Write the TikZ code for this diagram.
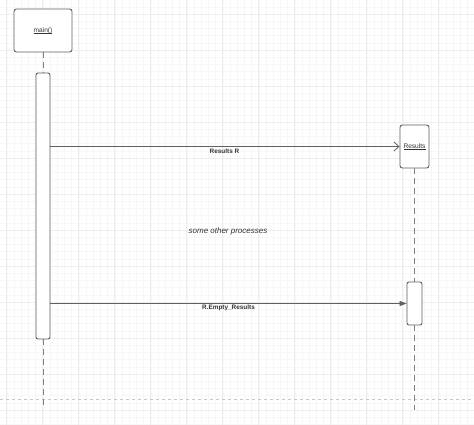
\documentclass[tikz,border=0pt]{standalone}
\usepackage{fontspec}
\setmainfont{Liberation Sans}
\usetikzlibrary{arrows.meta}
\definecolor{edge}{HTML}{606060}
\definecolor{txt}{HTML}{333333}
\definecolor{gmajor}{HTML}{EEEEEE}
\definecolor{gminor}{HTML}{F7F7F7}
\newcommand{\myul}[1]{\setbox0\hbox{#1}\rlap{\rule[-1pt]{\wd0}{0.45pt}}\box0}
\tikzset{
  objbox/.style={draw=edge, line width=0.9pt, rounded corners=2.5pt, fill=white, inner sep=0pt, text=txt, font=\fontsize{6.6}{7}\selectfont},
  actbox/.style={draw=edge, line width=0.9pt, rounded corners=2pt, fill=white, inner sep=0pt},
  life/.style={draw=edge!80, line width=0.8pt, dash pattern=on 6pt off 4pt},
  msg/.style={draw=edge, line width=0.8pt},
  msglabel/.style={text=txt, font=\bfseries\fontsize{6.4}{7}\selectfont, inner sep=0pt},
  note/.style={text=txt, font=\itshape\fontsize{8}{9}\selectfont, inner sep=0pt}
}
\begin{document}
\begin{tikzpicture}[x=1pt,y=-1pt]
\useasboundingbox (0,0) rectangle (474,425);
\fill[white] (0,0) rectangle (474,425);
% grid
\foreach \i in {0,...,66} {
  \pgfmathsetmacro\xx{-0.5+7.2*\i}
  \draw[gminor, line width=0.4pt] (\xx,0) -- (\xx,425);
}
\foreach \i in {0,...,59} {
  \pgfmathsetmacro\yy{-0.4+7.2*\i}
  \draw[gminor, line width=0.4pt] (0,\yy) -- (474,\yy);
}
\foreach \i in {0,...,13} {
  \pgfmathsetmacro\xx{6.7+36*\i}
  \draw[gmajor, line width=0.5pt] (\xx,0) -- (\xx,425);
}
\foreach \i in {0,...,11} {
  \pgfmathsetmacro\yy{14+36*\i}
  \draw[gmajor, line width=0.5pt] (0,\yy) -- (474,\yy);
}
\draw[black!22, line width=0.6pt, dash pattern=on 3pt off 3pt] (0,399) -- (474,399);

% objects
\node[objbox, minimum width=58pt, minimum height=43pt] (main) at (43,30.5) {\myul{main()}};
\node[actbox, minimum width=14pt, minimum height=266pt] (act1) at (43,206) {};
\node[objbox, minimum width=29pt, minimum height=43pt] (res) at (414.5,146.5) {\myul{Results}};
\node[actbox, minimum width=15pt, minimum height=43pt] (act2) at (414.5,303.5) {};
\coordinate (mainend) at (43,405);
\coordinate (resend) at (414.5,410);

% lifelines
\draw[life] (main.south) -- (act1.north);
\draw[life] (act1.south) -- (mainend);
\draw[life] (res.south) -- (act2.north);
\draw[life] (act2.south) -- (resend);

% messages
\draw[msg, -{Straight Barb[length=5pt, width=9pt, line width=0.8pt]}] (act1.east |- res.west) -- (res.west);
\node[msglabel] (m1) at (224.5,151) {Results R};
\draw[msg, -{Triangle[length=7pt, width=5pt]}] (act1.east |- act2.west) -- (act2.west);
\node[msglabel] (m2) at (228.5,308) {R.Empty\_Results};

\node[note] (n1) at (228,231) {some other processes};
\end{tikzpicture}
\end{document}
